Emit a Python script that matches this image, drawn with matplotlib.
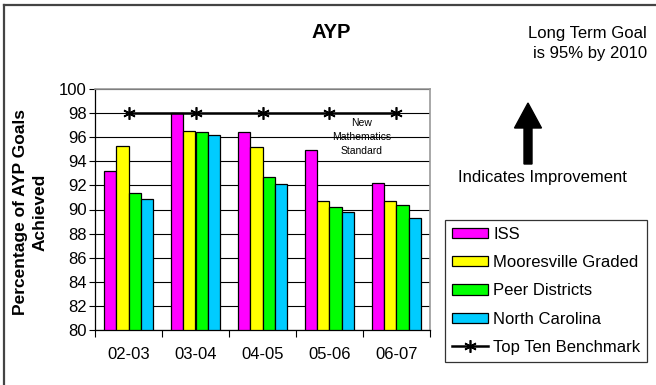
import matplotlib
matplotlib.use("Agg")
import matplotlib.pyplot as plt
import numpy as np
from matplotlib.patches import FancyArrow
from matplotlib.lines import Line2D

plt.rcParams['font.family'] = ['Liberation Sans', 'DejaVu Sans']

years = ["02-03", "03-04", "04-05", "05-06", "06-07"]
iss = [93.2, 98.0, 96.4, 94.9, 92.2]
mooresville = [95.3, 96.5, 95.2, 90.7, 90.7]
peer = [91.4, 96.4, 92.7, 90.2, 90.4]
north_carolina = [90.9, 96.2, 92.1, 89.8, 89.3]
benchmark = [98, 98, 98, 98, 98]

series = [
    ("ISS", iss, "#ff00ff"),
    ("Mooresville Graded", mooresville, "#ffff00"),
    ("Peer Districts", peer, "#00ff00"),
    ("North Carolina", north_carolina, "#00ccff"),
]

fig = plt.figure(figsize=(6.56, 3.85), dpi=100)
W, H = 656, 385
ax = fig.add_axes([95 / W, 1 - 330 / H, (430 - 95) / W, (330 - 89) / H])

x = np.arange(len(years))
bw = 0.182
offsets = (np.arange(4) - 1.5) * bw
handles = []
for (name, vals, col), off in zip(series, offsets):
    b = ax.bar(x + off, np.array(vals) - 80, bottom=80, width=bw, color=col,
               edgecolor="black", linewidth=0.9, zorder=3, label=name)
    handles.append(b)

ln, = ax.plot(x, benchmark, color="black", linewidth=1.8, marker=(6, 2, 0),
              markersize=9, markeredgewidth=1.2, zorder=4, label="Top Ten Benchmark")
handles.append(ln)

ax.set_xlim(-0.5, len(years) - 0.5)
ax.set_ylim(80, 100)
ax.set_yticks(np.arange(80, 101, 2))
ax.tick_params(axis='y', labelsize=12, length=4, width=0.8, pad=2)
ax.set_xticks(x)
ax.set_xticklabels(years, fontsize=12)
ax.tick_params(axis='x', length=0, pad=12)
ax.set_xticks(np.arange(-0.5, len(years), 1), minor=True)
ax.tick_params(axis='x', which='minor', length=5, width=0.8, direction='out')
ax.grid(axis='y', color="black", linewidth=0.8, zorder=0)
ax.set_axisbelow(True)
for s in ("top", "right"):
    ax.spines[s].set_color("#999999")
    ax.spines[s].set_linewidth(1.2)
for s in ("left", "bottom"):
    ax.spines[s].set_color("black")
    ax.spines[s].set_linewidth(0.9)

fig.text(30 / W, 1 - 212 / H, "Percentage of AYP Goals\nAchieved", rotation=90,
         ha="center", va="center", fontsize=12.5, fontweight="bold", linespacing=1.4)

fig.text(331 / W, 1 - 33 / H, "AYP", ha="center", va="center",
         fontsize=14.5, fontweight="bold")

fig.text(647 / W, 1 - 43.5 / H, "Long Term Goal\nis 95% by 2010", ha="right",
         va="center", fontsize=12, linespacing=1.45)

fig.text(362 / W, 1 - 137 / H, "New\nMathematics\nStandard", ha="center",
         va="center", fontsize=7.5, linespacing=1.5)

arrow = FancyArrow(528 / W, 1 - 164 / H, 0, (164 - 103) / H, width=8 / W,
                   head_width=27 / W, head_length=25 / H,
                   length_includes_head=True, transform=fig.transFigure,
                   color="black")
fig.add_artist(arrow)
fig.text(542 / W, 1 - 178 / H, "Indicates Improvement", ha="center",
         va="center", fontsize=12)

leg = fig.legend(handles=handles, loc="upper left",
                 bbox_to_anchor=(445 / W, 1 - 220 / H), fontsize=12,
                 frameon=True, fancybox=False, edgecolor="black",
                 handlelength=2.15, handleheight=0.6, handletextpad=0.35,
                 labelspacing=0.8, borderpad=0.4, borderaxespad=0)
leg.get_frame().set_linewidth(0.9)

# outer frame of the chart
fig.add_artist(Line2D([4 / W, 4 / W], [0, 1 - 5 / H], transform=fig.transFigure,
                      color="#444444", linewidth=1.6))
fig.add_artist(Line2D([4 / W, 1], [1 - 5 / H, 1 - 5 / H], transform=fig.transFigure,
                      color="#444444", linewidth=1.6))

fig.savefig("out.png", dpi=100)
